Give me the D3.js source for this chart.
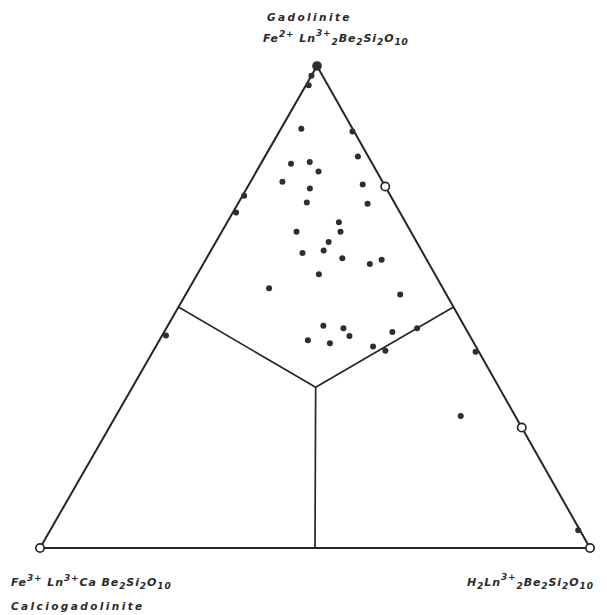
<!DOCTYPE html>
<html>
<head>
<meta charset="utf-8">
<script src="https://cdn.jsdelivr.net/npm/d3@7"></script>
<style>
  body { margin: 0; background: #fff; }
  text { font-family: "DejaVu Sans", sans-serif; font-style: italic; fill: #2a2a2a; }
</style>
</head>
<body>
<svg width="607" height="615"></svg>
<script>
// ternary fractions: gad = Gadolinite (top), hin = H2Ln2Be2Si2O10 (bottom right),
// the Calciogadolinite fraction (bottom left) is 1 - gad - hin
const gadFilled = [0.98, 0.96, 0.87, 0.864, 0.812, 0.797, 0.801, 0.781, 0.760, 0.754,
    0.746, 0.731, 0.717, 0.714, 0.696, 0.676, 0.656, 0.656, 0.635, 0.617,
    0.612, 0.601, 0.598, 0.589, 0.568, 0.539, 0.526, 0.461, 0.456, 0.456,
    0.448, 0.440, 0.431, 0.425, 0.418, 0.409, 0.441, 0.407, 0.274, 0.037];
const hinFilled = [0.0, 0.005, 0.037, 0.133, 0.169, 0.055, 0.087, 0.113, 0.058, 0.207,
    0.115, 0.003, 0.124, 0.236, 0.006, 0.203, 0.216, 0.136, 0.205, 0.205,
    0.169, 0.247, 0.320, 0.303, 0.221, 0.145, 0.390, 0.283, 0.322, 0.456,
    0.415, 0.341, 0.270, 0.313, 0.395, 0.422, 0.007, 0.587, 0.627, 0.96];
const gadOpen = [0.75, 0.25, 0, 0];
const hinOpen = [0.25, 0.75, 1, 0];
const gadEnd = [1];
const hinEnd = [0];

// field boundaries: centroid to the mid-points of the three sides
const gadBound = [1 / 3, 0.5, 0.5, 0];
const hinBound = [1 / 3, 0, 0.5, 0.5];

const svg = d3.select("svg");

const apex = (317 - 40) / 550;
const x = d3.scaleLinear().domain([0, 1]).range([40, 590]);
const y = d3.scaleLinear().domain([0, 1]).range([548, 66]);
const px = (g, h) => x(h + g * apex);
const py = g => y(g);

const ink = "#262626";

// outer triangle
const corners = [[1, 0], [0, 0], [0, 1]];
svg.append("path")
    .attr("d", d3.line()(corners.map(d => [px(d[0], d[1]), py(d[0])])) + "Z")
    .attr("fill", "none")
    .attr("stroke", ink)
    .attr("stroke-width", 2)
    .attr("stroke-linejoin", "round");

// internal boundaries
for (let i = 1; i < gadBound.length; i++) {
    svg.append("line")
        .attr("x1", px(gadBound[0], hinBound[0])).attr("y1", py(gadBound[0]))
        .attr("x2", px(gadBound[i], hinBound[i])).attr("y2", py(gadBound[i]))
        .attr("stroke", ink)
        .attr("stroke-width", 1.7);
}

svg.selectAll(".dot")
    .data(d3.range(gadFilled.length))
    .join("circle")
    .attr("class", "dot")
    .attr("cx", i => px(gadFilled[i], hinFilled[i]))
    .attr("cy", i => py(gadFilled[i]))
    .attr("r", 3)
    .attr("fill", "#2e2e2e");

svg.selectAll(".open")
    .data(d3.range(gadOpen.length))
    .join("circle")
    .attr("class", "open")
    .attr("cx", i => px(gadOpen[i], hinOpen[i]))
    .attr("cy", i => py(gadOpen[i]))
    .attr("r", 4.2)
    .attr("fill", "#fff")
    .attr("stroke", ink)
    .attr("stroke-width", 1.7);

svg.selectAll(".end")
    .data(d3.range(gadEnd.length))
    .join("circle")
    .attr("class", "end")
    .attr("cx", i => px(gadEnd[i], hinEnd[i]))
    .attr("cy", i => py(gadEnd[i]))
    .attr("r", 4.8)
    .attr("fill", "#2e2e2e");

// formula labels: [text, kind, dy] where kind is sup or sub
function formula(xPos, yPos, parts, anchor) {
    const t = svg.append("text")
        .attr("x", xPos).attr("y", yPos)
        .attr("font-size", 11)
        .attr("letter-spacing", 0.9)
        .attr("font-weight", 600)
        .attr("text-anchor", anchor || "start");
    parts.forEach(p => {
        const s = t.append("tspan").text(p[0]);
        if (p[1] === "sup" || p[1] === "sub") s.attr("font-size", 9);
        s.attr("dy", p[2] || 0);
    });
    return t;
}

function label(xPos, yPos, txt) {
    svg.append("text")
        .attr("x", xPos).attr("y", yPos)
        .attr("font-size", 10.5)
        .attr("font-weight", 600)
        .attr("letter-spacing", 2.4)
        .text(txt);
}

label(267, 21, "Gadolinite");
formula(263, 42, [["Fe"], ["2+", "sup", -5], [" Ln", null, 5], ["3+", "sup", -6], ["2", "sub", 9],
    ["Be", null, -3], ["2", "sub", 3], ["Si", null, -3], ["2", "sub", 3], ["O", null, -3], ["10", "sub", 3]]);

formula(11, 586, [["Fe"], ["3+", "sup", -5], [" Ln", null, 5], ["3+", "sup", -5], ["Ca Be", null, 5],
    ["2", "sub", 3], ["Si", null, -3], ["2", "sub", 3], ["O", null, -3], ["10", "sub", 3]]);
label(11, 610, "Calciogadolinite");

formula(467, 586, [["H"], ["2", "sub", 3], ["Ln", null, -3], ["3+", "sup", -6], ["2", "sub", 9],
    ["Be", null, -3], ["2", "sub", 3], ["Si", null, -3], ["2", "sub", 3], ["O", null, -3], ["10", "sub", 3]]);
</script>
</body>
</html>
